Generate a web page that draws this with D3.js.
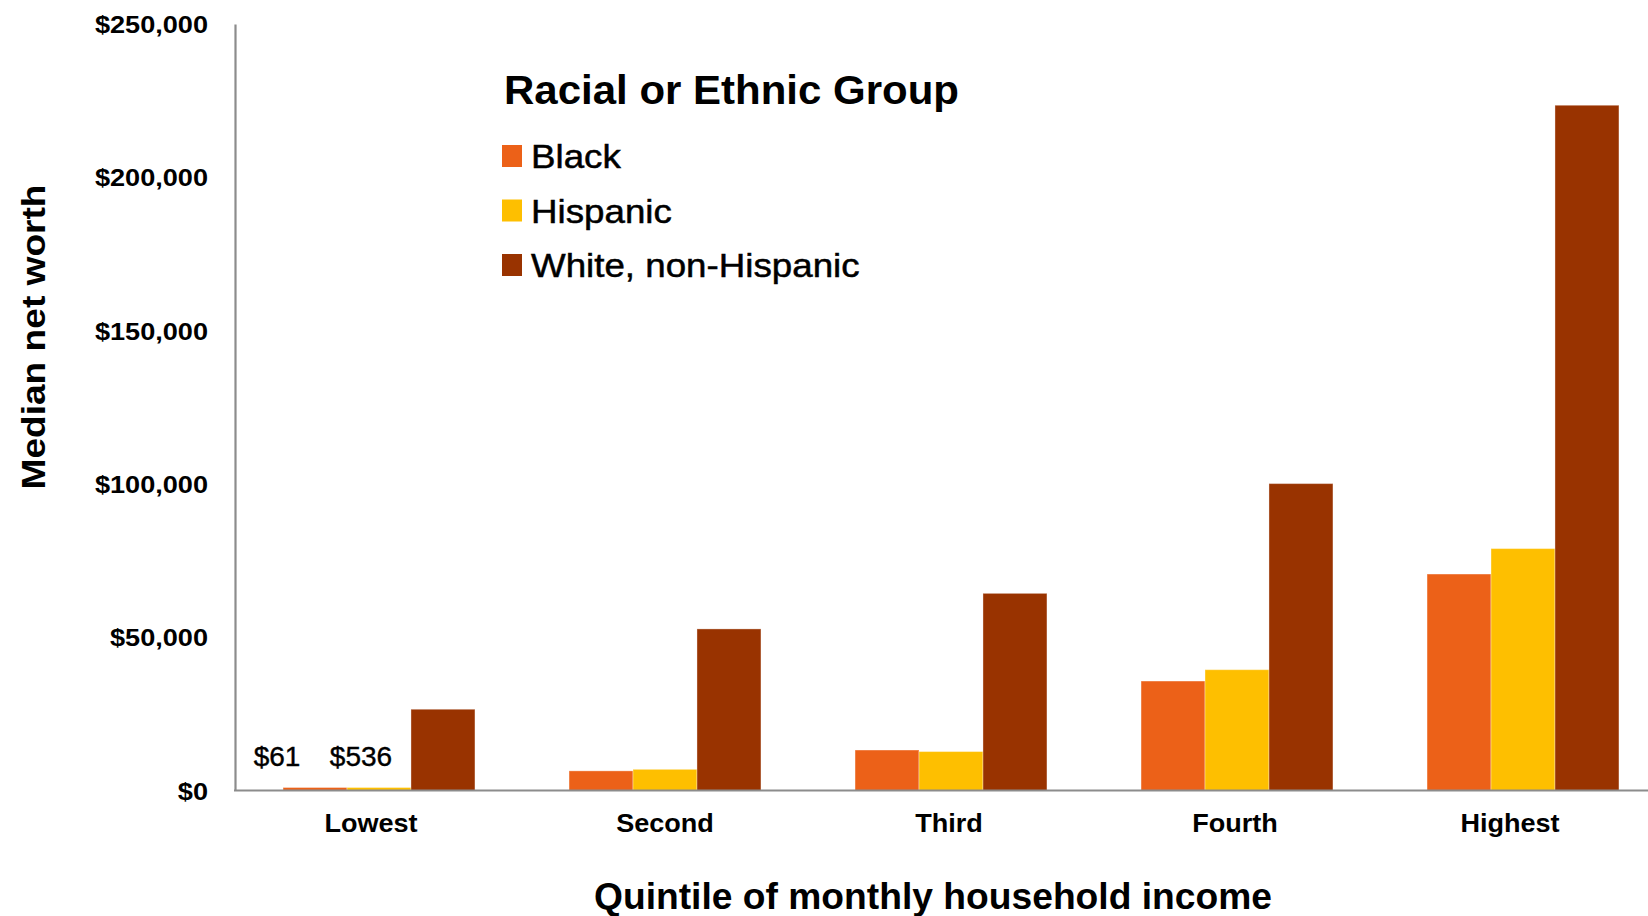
<!DOCTYPE html>
<html>
<head>
<meta charset="utf-8">
<script src="https://cdn.jsdelivr.net/npm/d3@7"></script>
<style>
  html, body { margin: 0; padding: 0; background: #fff; }
  svg { display: block; }
  text { font-family: "Liberation Sans", Arial, sans-serif; fill: #000; }
</style>
</head>
<body>
<svg id="chart" width="1648" height="916"></svg>
<script>
// ---- data ----
const categories = ["Lowest", "Second", "Third", "Fourth", "Highest"];
const seriesNames = ["Black", "Hispanic", "White, non-Hispanic"];
const blackValues = [61, 6400, 13200, 35700, 70600];
const hispanicValues = [536, 6900, 12700, 39400, 78900];
const whiteValues = [26500, 52700, 64300, 100100, 223500];
const yTicks = [0, 50000, 100000, 150000, 200000, 250000];
const seriesColors = ["#EC6118", "#FEBF00", "#993300"];
const lowLabels = ["$61", "$536"];
const legendTitle = "Racial or Ethnic Group";
const yTitle = "Median net worth";
const xTitle = "Quintile of monthly household income";

const seriesValues = [blackValues, hispanicValues, whiteValues];

const svg = d3.select("#chart");

const x0 = d3.scaleBand().domain(categories).range([236, 1666])
  .paddingInner(0.329).paddingOuter(0.1645);
const x1 = d3.scaleBand().domain(seriesNames).range([0, x0.bandwidth()]);
const y = d3.scaleLinear().domain([0, 250000]).range([790.5, 24]);

// stretch helper: text in the reference is rendered a bit wide
function stretch(sel, f) {
  sel.each(function () {
    const w = this.getComputedTextLength();
    d3.select(this).attr("textLength", w * f).attr("lengthAdjust", "spacingAndGlyphs");
  });
}

// bars
const groups = svg.append("g").selectAll("g")
  .data(categories).join("g")
  .attr("transform", d => `translate(${x0(d)},0)`);

groups.selectAll("rect")
  .data((c, i) => seriesNames.map((s, j) => ({ s, j, v: seriesValues[j][i] })))
  .join("rect")
  .attr("x", d => x1(d.s))
  .attr("width", x1.bandwidth())
  .attr("y", d => Math.min(y(d.v), y(0) - 3))
  .attr("height", d => Math.max(3, y(0) - y(d.v)))
  .attr("fill", d => seriesColors[d.j])
  .attr("stroke", "rgba(255,255,255,0.35)")
  .attr("stroke-width", 1);

// y axis
const yAxis = d3.axisLeft(y).tickValues(yTicks).tickSize(0).tickPadding(27)
  .tickFormat(d => "$" + d3.format(",")(d));
const yg = svg.append("g").attr("transform", "translate(235,0)").call(yAxis);
yg.select(".domain").attr("stroke", "#8c8c8c").attr("stroke-width", 2.2);
yg.selectAll("text")
  .attr("font-family", "Liberation Sans, Arial, sans-serif")
  .attr("font-size", 24).attr("font-weight", "bold").attr("fill", "#000")
  .attr("dy", "0.36em");
stretch(yg.selectAll("text"), 1.13);

// x axis
const xAxis = d3.axisBottom(x0).tickSize(0).tickPadding(0);
const xg = svg.append("g").attr("transform", `translate(0,${y(0)})`).call(xAxis);
xg.select(".domain").remove();
xg.append("line").attr("x1", 234).attr("x2", 1648).attr("y1", 0).attr("y2", 0)
  .attr("stroke", "#8c8c8c").attr("stroke-width", 2.2);
const labelShift = [-8, 0, -2, -2, -13];
xg.selectAll(".tick text")
  .attr("font-family", "Liberation Sans, Arial, sans-serif")
  .attr("font-size", 26).attr("font-weight", "bold").attr("fill", "#000")
  .attr("x", (d, i) => labelShift[i])
  .attr("y", 41).attr("dy", 0);
stretch(xg.selectAll(".tick text"), 1.04);

// low value labels
const lowOffsets = [-38, -18];
svg.append("g").selectAll("text")
  .data(lowLabels).join("text")
  .attr("x", (d, i) => x0(categories[0]) + x1(seriesNames[i]) + x1.bandwidth() / 2 + lowOffsets[i])
  .attr("y", 766)
  .attr("text-anchor", "middle")
  .attr("font-size", 28)
  .attr("stroke", "#000").attr("stroke-width", 0.4)
  .text(d => d);

// legend
const lg = svg.append("g").attr("transform", "translate(502,0)");
lg.append("text").attr("x", 2).attr("y", 103.5)
  .attr("font-size", 41).attr("font-weight", "bold")
  .text(legendTitle)
  .attr("textLength", 455).attr("lengthAdjust", "spacingAndGlyphs");
const items = lg.selectAll("g.item").data(seriesNames).join("g")
  .attr("class", "item")
  .attr("transform", (d, i) => `translate(0,${145 + i * 54.5})`);
items.append("rect").attr("width", 20).attr("height", 22)
  .attr("fill", (d, i) => seriesColors[i]);
const itemText = items.append("text").attr("x", 29).attr("y", 23)
  .attr("font-size", 34)
  .attr("stroke", "#000").attr("stroke-width", 0.5)
  .text(d => d);
stretch(itemText, 1.08);

// axis titles
svg.append("text")
  .attr("transform", "translate(45,337) rotate(-90)")
  .attr("text-anchor", "middle")
  .attr("font-size", 34).attr("font-weight", "bold")
  .text(yTitle)
  .attr("textLength", 305).attr("lengthAdjust", "spacingAndGlyphs");

svg.append("text")
  .attr("x", 933).attr("y", 909)
  .attr("text-anchor", "middle")
  .attr("font-size", 36).attr("font-weight", "bold")
  .text(xTitle)
  .attr("textLength", 678).attr("lengthAdjust", "spacingAndGlyphs");
</script>
</body>
</html>
